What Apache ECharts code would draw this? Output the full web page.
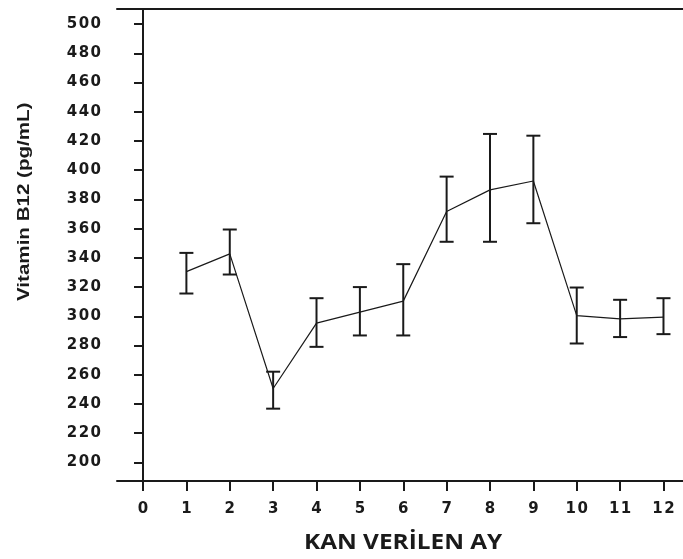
<!DOCTYPE html>
<html>
<head>
<meta charset="utf-8">
<script src="https://cdn.jsdelivr.net/npm/echarts@6/dist/echarts.min.js"></script>
<style>html,body{margin:0;padding:0;background:#fff}#c{width:683px;height:559px}</style>
</head>
<body>
<div id="c"></div>
<script>
var months = [1, 2, 3, 4, 5, 6, 7, 8, 9, 10, 11, 12];
var means = [330.6, 342.7, 250.6, 295.3, 302.9, 310.4, 371.7, 386.5, 392.6, 300.5, 298.3, 299.5];
var upper = [343.4, 359.4, 262.1, 312.4, 320.0, 335.7, 395.6, 424.8, 423.6, 319.7, 311.3, 312.4];
var lower = [315.6, 328.6, 236.8, 279.1, 286.9, 286.9, 351.0, 351.0, 363.7, 281.4, 285.8, 287.8];
var xTicks = [0, 1, 2, 3, 4, 5, 6, 7, 8, 9, 10, 11, 12];
var yTicks = [200, 220, 240, 260, 280, 300, 320, 340, 360, 380, 400, 420, 440, 460, 480, 500];

var lineData = months.map(function (m, i) { return [m, means[i]]; });
var errData = months.map(function (m, i) { return [m, lower[i], upper[i]]; });

var chart = echarts.init(document.getElementById('c'), null, { renderer: 'canvas' });
var ink = '#1a1a1a';
function spaced(v) { return String(v).split('').join('\u200a'); }
var labelFont = { color: ink, fontFamily: 'DejaVu Sans', fontSize: 15, fontWeight: 'bold', formatter: spaced };

chart.setOption({
  animation: false,
  backgroundColor: '#fff',
  grid: { left: 117, right: 0, top: 9, bottom: 78 },
  xAxis: [{
    type: 'value', min: -0.6, max: 12.45,
    axisLine: { show: true, lineStyle: { color: ink, width: 2 } },
    axisTick: { show: true, customValues: xTicks, length: 10, lineStyle: { color: ink, width: 2 } },
    axisLabel: Object.assign({ customValues: xTicks, margin: 21 }, labelFont),
    splitLine: { show: false }
  }, {
    type: 'value', min: -0.6, max: 12.45, position: 'top',
    axisLine: { show: true, lineStyle: { color: ink, width: 2 } },
    axisTick: { show: false }, axisLabel: { show: false }, splitLine: { show: false }
  }],
  yAxis: {
    type: 'value', min: 187.3, max: 510.3,
    axisLine: { show: true, lineStyle: { color: ink, width: 2 } },
    axisTick: { show: true, customValues: yTicks, length: 9, lineStyle: { color: ink, width: 2 } },
    axisLabel: Object.assign({ customValues: yTicks, margin: 16 }, labelFont),
    splitLine: { show: false }
  },
  graphic: [{
    type: 'text', x: 304, y: 533, scaleX: 1.16,
    style: { text: 'KAN VERİLEN AY', fill: ink, font: 'bold 21px "Open Sans", sans-serif', textAlign: 'left', textVerticalAlign: 'top' }
  }, {
    type: 'text', x: 16, y: 301, rotation: Math.PI / 2, scaleX: 1.21,
    style: { text: 'Vitamin B12 (pg/mL)', fill: ink, font: 'bold 17px "Liberation Sans", sans-serif', textAlign: 'left', textVerticalAlign: 'top' }
  }],
  series: [{
    type: 'line', data: lineData, symbol: 'none',
    lineStyle: { color: ink, width: 1.2 }
  }, {
    type: 'custom', data: errData,
    renderItem: function (params, api) {
      var x = api.value(0);
      var lo = api.coord([x, api.value(1)]);
      var hi = api.coord([x, api.value(2)]);
      var w = 7;
      var st = { stroke: ink, lineWidth: 2 };
      return { type: 'group', children: [
        { type: 'line', shape: { x1: hi[0], y1: hi[1], x2: lo[0], y2: lo[1] }, style: st },
        { type: 'line', shape: { x1: hi[0] - w, y1: hi[1], x2: hi[0] + w, y2: hi[1] }, style: st },
        { type: 'line', shape: { x1: lo[0] - w, y1: lo[1], x2: lo[0] + w, y2: lo[1] }, style: st }
      ] };
    },
    z: 3
  }]
});
</script>
</body>
</html>
